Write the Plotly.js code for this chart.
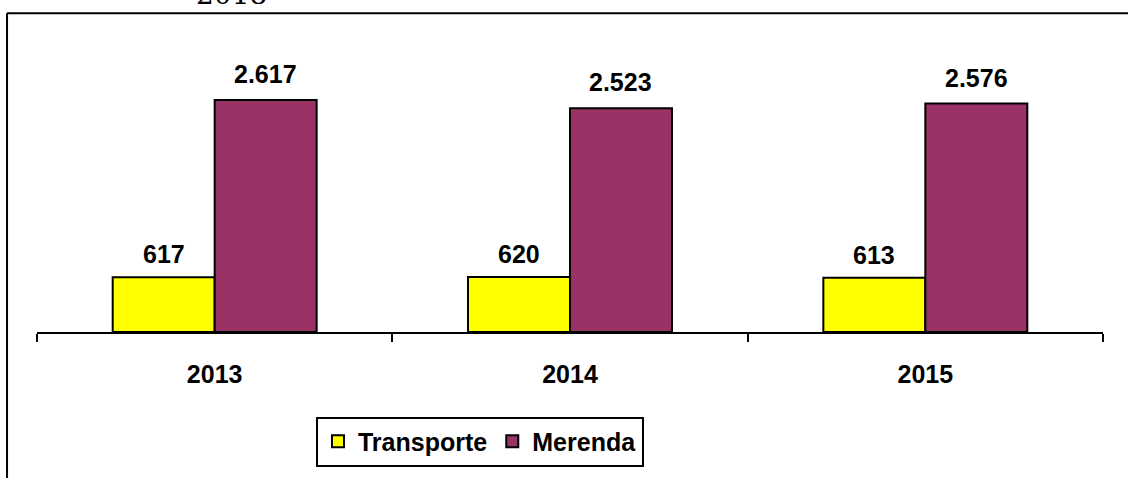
<!DOCTYPE html>
<html>
<head>
<meta charset="utf-8">
<script src="https://cdn.plot.ly/plotly-3.0.1.min.js"></script>
<style>
html,body{margin:0;padding:0;background:#fff;}
#chart{width:1128px;height:478px;}
</style>
</head>
<body>
<div id="chart"></div>
<script>
const categories = ['2013', '2014', '2015'];
const transporte = [617, 620, 613];
const merenda = [2617, 2523, 2576];
const seriesNames = ['Transporte', 'Merenda'];
const headerText = '2018';

const BARGAP = 0.426;
const FONT = 'Liberation Sans, Arial, sans-serif';

function fmt(n) {
  const s = String(Math.round(n));
  return s.replace(/\B(?=(\d{3})+(?!\d))/g, '.');
}

const traces = [
  {
    type: 'bar', name: seriesNames[0], x: categories, y: transporte,
    marker: {color: '#FFFF00', line: {color: '#000000', width: 2}},
    hoverinfo: 'skip'
  },
  {
    type: 'bar', name: seriesNames[1], x: categories, y: merenda,
    marker: {color: '#993366', line: {color: '#000000', width: 2}},
    hoverinfo: 'skip'
  }
];

const off = (1 - BARGAP) / 4;
const annotations = [];
[transporte, merenda].forEach(function (vals, s) {
  vals.forEach(function (v, i) {
    annotations.push({
      x: i + (s === 0 ? -off : off), y: v, xref: 'x', yref: 'y',
      text: '<b>' + fmt(v) + '</b>', showarrow: false,
      yanchor: 'bottom', xanchor: 'center', yshift: s === 0 ? 7 : 10,
      font: {family: FONT, size: 25, color: '#000000'}
    });
  });
});
annotations.push({
  x: 0.182, y: 1.2004, xref: 'paper', yref: 'paper',
  text: headerText, showarrow: false, xanchor: 'center', yanchor: 'bottom',
  font: {family: 'DejaVu Serif, serif', size: 28, color: '#000000'}
});

const layout = {
  width: 1128, height: 478,
  margin: {l: 37, r: 25, t: 66, b: 140, pad: 0},
  paper_bgcolor: '#ffffff', plot_bgcolor: '#ffffff',
  barmode: 'group', bargap: BARGAP, bargroupgap: 0,
  showlegend: true,
  legend: {
    orientation: 'h', x: 0.2617, xanchor: 'left', y: -0.318, yanchor: 'top',
    bordercolor: '#000000', borderwidth: 2, bgcolor: '#ffffff',
    font: {family: FONT, size: 25, color: '#000000', weight: 'bold'},
    itemwidth: 30, traceorder: 'normal'
  },
  xaxis: {
    type: 'category', range: [-0.5, 2.5], fixedrange: true,
    showline: true, linecolor: '#000000', linewidth: 2,
    ticks: 'outside', tickson: 'boundaries', ticklen: 8, tickwidth: 2, tickcolor: '#000000',
    tickfont: {family: FONT, size: 25, color: '#000000', weight: 'bold'},
    ticklabelstandoff: 19,
    showgrid: false, zeroline: false
  },
  yaxis: {
    range: [0, 3000], visible: false, fixedrange: true,
    showgrid: false, zeroline: false
  },
  annotations: annotations,
  shapes: [
    {type: 'line', xref: 'paper', yref: 'paper', x0: -0.0281, x1: -0.0281, y0: -0.6, y1: 1.1985,
     line: {color: '#000000', width: 2}},
    {type: 'line', xref: 'paper', yref: 'paper', x0: -0.0281, x1: 1.1, y0: 1.1985, y1: 1.1985,
     line: {color: '#000000', width: 2}}
  ]
};

Plotly.newPlot('chart', traces, layout, {displayModeBar: false, staticPlot: true});
</script>
</body>
</html>
